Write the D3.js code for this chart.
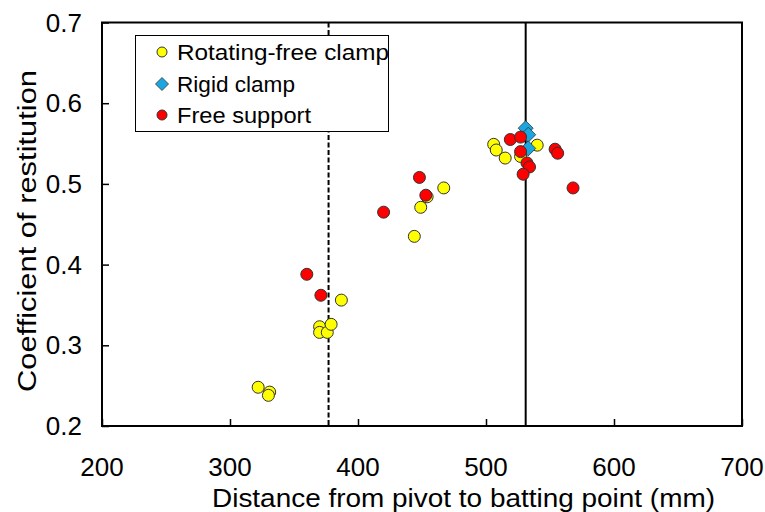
<!DOCTYPE html>
<html>
<head>
<meta charset="utf-8">
<script src="https://cdn.jsdelivr.net/npm/d3@7"></script>
<style>
  html, body { margin: 0; padding: 0; background: #fff; }
  svg { display: block; }
  text { font-family: "Liberation Sans", Arial, sans-serif; fill: #000; }
</style>
</head>
<body>
<svg id="chart" width="765" height="512"></svg>
<script>
// ---- data ----
const rotatingX = [322, 331, 330, 387, 370, 370, 376, 379, 444, 449, 467, 454, 506, 508, 515, 527, 540];
const rotatingY = [0.248, 0.242, 0.238, 0.356, 0.323, 0.316, 0.316, 0.326, 0.435, 0.471, 0.495, 0.484, 0.549, 0.542, 0.532, 0.534, 0.548];
const rigidX = [531, 533, 533];
const rigidY = [0.569, 0.561, 0.544];
const freeX = [360, 371, 420, 448, 453, 519, 527, 527, 532, 534, 529, 554, 556, 568];
const freeY = [0.388, 0.362, 0.465, 0.508, 0.486, 0.555, 0.558, 0.540, 0.526, 0.521, 0.512, 0.543, 0.538, 0.495];
const dashedLineX = 377;
const solidLineX = 531;
const xTicks = [200, 300, 400, 500, 600, 700];
const yTicks = [0.2, 0.3, 0.4, 0.5, 0.6, 0.7];
const legendLabels = ["Rotating-free clamp", "Rigid clamp", "Free support"];
const xTitle = "Distance from pivot to batting point (mm)";
const yTitle = "Coefficient of restitution";

// ---- layout ----
const L = 102, R = 742, T = 22.5, B = 426;
const svg = d3.select("#chart");
const x = d3.scaleLinear().domain([200, 700]).range([L, R]);
const y = d3.scaleLinear().domain([0.2, 0.7]).range([B, T]);

// ticks (inward)
const xAxis = d3.axisTop(x).tickValues(xTicks).tickSize(7).tickFormat("");
svg.append("g").attr("transform", `translate(0,${B})`).call(xAxis)
  .call(g => g.select(".domain").remove())
  .call(g => g.selectAll("line").attr("stroke", "#000").attr("stroke-width", 1.5));
const yAxis = d3.axisRight(y).tickValues(yTicks).tickSize(7).tickFormat("");
svg.append("g").attr("transform", `translate(${L},0)`).call(yAxis)
  .call(g => g.select(".domain").remove())
  .call(g => g.selectAll("line").attr("stroke", "#000").attr("stroke-width", 1.5));

// tick labels
svg.append("g").selectAll("text").data(xTicks).join("text")
  .attr("x", d => x(d)).attr("y", 467)
  .attr("text-anchor", "middle").attr("dominant-baseline", "central")
  .attr("font-size", 26).text(d => d);
svg.append("g").selectAll("text").data(yTicks).join("text")
  .attr("x", 82).attr("y", d => y(d))
  .attr("text-anchor", "end").attr("dominant-baseline", "central")
  .attr("font-size", 26).text(d => d3.format(".1f")(d));

// reference lines
svg.append("line").attr("x1", x(dashedLineX)).attr("x2", x(dashedLineX))
  .attr("y1", T).attr("y2", B).attr("stroke", "#000").attr("stroke-width", 2)
  .attr("stroke-dasharray", "5,2.5");
svg.append("line").attr("x1", x(solidLineX)).attr("x2", x(solidLineX))
  .attr("y1", T).attr("y2", B).attr("stroke", "#000").attr("stroke-width", 2);

// frame
svg.append("rect").attr("x", L).attr("y", T).attr("width", R - L).attr("height", B - T)
  .attr("fill", "none").attr("stroke", "#000").attr("stroke-width", 2);

// markers
const diamond = s => `M0,${-s}L${s},0L0,${s}L${-s},0Z`;
const rot = rotatingX.map((v, i) => [v, rotatingY[i]]);
const rig = rigidX.map((v, i) => [v, rigidY[i]]);
const fre = freeX.map((v, i) => [v, freeY[i]]);

svg.append("g").selectAll("circle").data(rot).join("circle")
  .attr("cx", d => x(d[0])).attr("cy", d => y(d[1])).attr("r", 6)
  .attr("fill", "#FFFF00").attr("stroke", "#333").attr("stroke-width", 1);
svg.append("g").selectAll("path").data(rig).join("path")
  .attr("transform", d => `translate(${x(d[0])},${y(d[1])})`).attr("d", diamond(7.5))
  .attr("fill", "#1BA6E0").attr("stroke", "#333").attr("stroke-width", 0.8);
svg.append("g").selectAll("circle").data(fre).join("circle")
  .attr("cx", d => x(d[0])).attr("cy", d => y(d[1])).attr("r", 6)
  .attr("fill", "#FF0000").attr("stroke", "#333").attr("stroke-width", 1);

// legend
const lg = svg.append("g");
lg.append("rect").attr("x", 135.5).attr("y", 35.5).attr("width", 253).attr("height", 96)
  .attr("fill", "#fff").attr("stroke", "#000").attr("stroke-width", 1);
const rowY = [52, 84, 115];
lg.append("circle").attr("cx", 162).attr("cy", rowY[0]).attr("r", 5)
  .attr("fill", "#FFFF00").attr("stroke", "#333").attr("stroke-width", 1);
lg.append("path").attr("transform", `translate(162,${rowY[1]})`).attr("d", diamond(6.5))
  .attr("fill", "#1BA6E0").attr("stroke", "#333").attr("stroke-width", 0.8);
lg.append("circle").attr("cx", 162).attr("cy", rowY[2]).attr("r", 5)
  .attr("fill", "#FF0000").attr("stroke", "#333").attr("stroke-width", 1);
const legendWidths = [212, 118, 134];
lg.selectAll("text.lab").data(legendLabels).join("text")
  .attr("x", 177).attr("y", (d, i) => rowY[i] + 8)
  .attr("font-size", 22)
  .attr("textLength", (d, i) => legendWidths[i]).attr("lengthAdjust", "spacingAndGlyphs")
  .text(d => d);

// axis titles
svg.append("text").attr("x", 212).attr("y", 507).attr("font-size", 25)
  .attr("textLength", 503).attr("lengthAdjust", "spacingAndGlyphs").text(xTitle);
svg.append("text").attr("transform", "translate(36,392) rotate(-90)")
  .attr("font-size", 25)
  .attr("textLength", 322).attr("lengthAdjust", "spacingAndGlyphs").text(yTitle);
</script>
</body>
</html>
